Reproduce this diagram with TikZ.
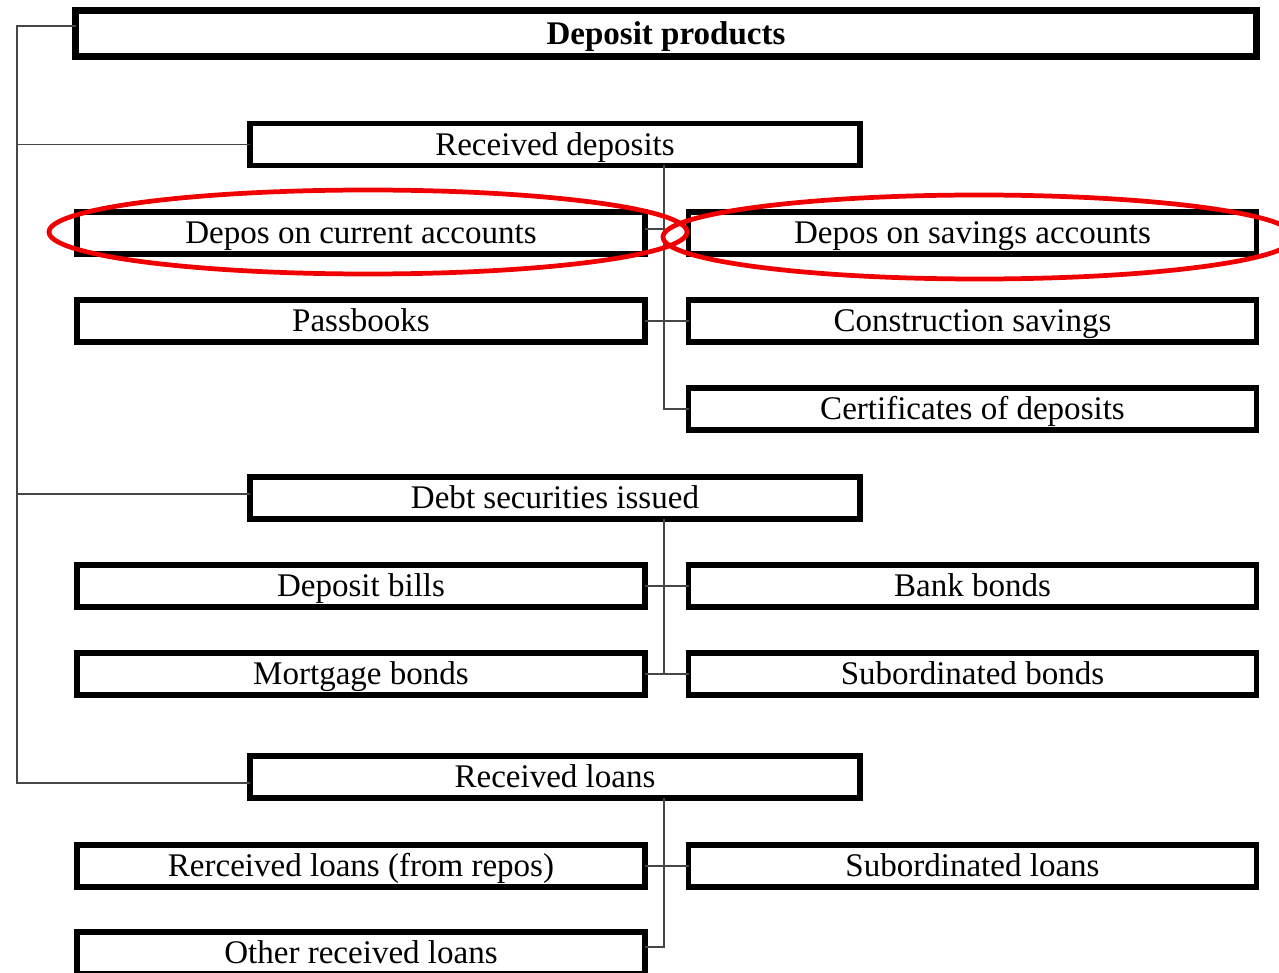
\documentclass[tikz,border=0pt]{standalone}
\usepackage{fontspec}
\setmainfont{Liberation Serif}
\usepackage{xcolor}
\definecolor{boxline}{RGB}{0,0,0}
\definecolor{linkgray}{RGB}{70,70,70}
\definecolor{markred}{RGB}{240,0,0}
\usetikzlibrary{positioning, calc}

\tikzset{
  headbox/.style={draw=boxline, line width=4pt, inner sep=0pt, outer sep=0pt,
    minimum width=23.62cm, minimum height=0.92cm, text height=14pt, text depth=1.6pt,
    font=\fontsize{18.8}{22}\selectfont\bfseries},
  groupbox/.style={draw=boxline, line width=3.1pt, inner sep=0pt, outer sep=0pt,
    minimum width=12.2cm, minimum height=0.84cm, text height=14pt, text depth=1.6pt,
    font=\fontsize{18.8}{22}\selectfont},
  itembox/.style={draw=boxline, line width=3.1pt, inner sep=0pt, outer sep=0pt,
    minimum width=11.36cm, minimum height=0.84cm, text height=14pt, text depth=1.6pt,
    font=\fontsize{18.8}{22}\selectfont},
  link/.style={draw=linkgray, line width=0.85pt},
  ring/.style={draw=markred, line width=2.7pt}
}

\begin{document}
\begin{tikzpicture}[x=0.02cm, y=-0.02cm]
  \useasboundingbox (0,0) rectangle (1279,973);
  \clip (0,0) rectangle (1279,973);

  % Header
  \node[headbox] (head) at (666,33.5) {Deposit products};

  % --- Received deposits ---
  \node[groupbox] (recdep) at (555,144.5) {Received deposits};
  \node[itembox] (current) at (361,233) {Depos on current accounts};
  \node[itembox] (savings) at (972.5,233) {Depos on savings accounts};
  \node[itembox] (passbook) at (361,321) {Passbooks};
  \node[itembox] (constr) at (972.5,321) {Construction savings};
  \node[itembox] (certif) at (972.5,409) {Certificates of deposits};

  % --- Debt securities issued ---
  \node[groupbox] (debt) at (555,498) {Debt securities issued};
  \node[itembox] (bills) at (361,586) {Deposit bills};
  \node[itembox] (bankbd) at (972.5,586) {Bank bonds};
  \node[itembox] (mortg) at (361,674) {Mortgage bonds};
  \node[itembox] (subbd) at (972.5,674) {Subordinated bonds};

  % --- Received loans ---
  \node[groupbox] (loans) at (555,777) {Received loans};
  \node[itembox] (repos) at (361,866) {Rerceived loans (from repos)};
  \node[itembox] (subln) at (972.5,866) {Subordinated loans};
  \node[itembox] (other) at (361,953) {Other received loans};

  % Left spine
  \coordinate (spine) at (17,0);
  \coordinate (hd) at ([yshift=0.15cm]head.west);
  \coordinate (dl) at ([yshift=0.08cm]debt.west);
  \coordinate (ll) at ([yshift=-0.12cm]loans.west);
  \draw[link] (hd) -- (hd -| spine) -- (ll -| spine) -- (ll);
  \draw[link] (recdep.west) -- (recdep.west -| spine);
  \draw[link] (dl) -- (dl -| spine);

  % Middle spines
  \coordinate (mid) at (664,0);
  \draw[link] (recdep.south -| mid) |- (certif.west);
  \draw[link] ([yshift=0.08cm]current.east) -- ([yshift=0.08cm]current.east -| mid);
  \draw[link] (passbook.east) -- (constr.west);
  \draw[link] (debt.south -| mid) -- (mortg.east -| mid);
  \draw[link] (bills.east) -- (bankbd.west);
  \draw[link] (mortg.east) -- (subbd.west);
  \draw[link] (loans.south -| mid) |- ([yshift=0.12cm]other.east);
  \draw[link] (repos.east) -- (subln.west);

  % Red marks
  \draw[ring] (368,232) ellipse [x radius=319, y radius=42];
  \draw[ring] (979,237) ellipse [x radius=316, y radius=42];
\end{tikzpicture}
\end{document}
